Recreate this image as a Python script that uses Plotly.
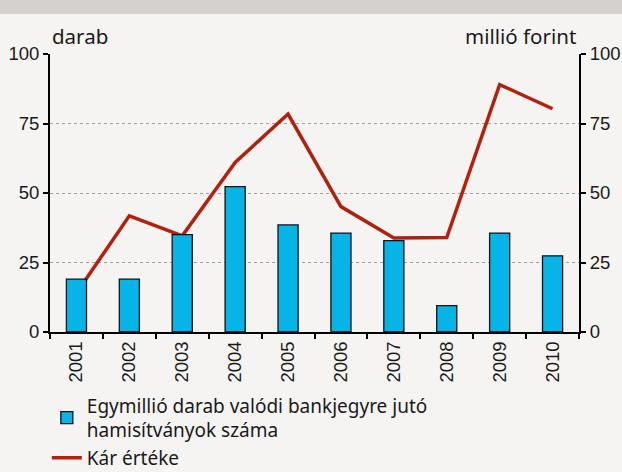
import plotly.graph_objects as go

years = ["2001", "2002", "2003", "2004", "2005", "2006", "2007", "2008", "2009", "2010"]
counterfeits_per_million = [19.0, 19.0, 35.0, 52.3, 38.5, 35.6, 32.9, 9.5, 35.6, 27.4]
damage_value = [14.0, 41.8, 34.6, 61.0, 78.4, 45.1, 33.8, 34.0, 89.0, 80.3]
y_ticks = [0, 25, 50, 75, 100]

bar_name = "Egymillió darab valódi bankjegyre jutó<br>hamisítványok száma"
line_name = "Kár értéke"

BG = "#f5f4f2"
TICKFONT = dict(family="Liberation Sans, Arial, sans-serif", size=18.5, color="#1a1a1a")
TEXTFONT = dict(family="Noto Sans, DejaVu Sans, sans-serif", size=20.5, color="#1a1a1a")
LEGENDFONT = dict(family="Noto Sans, DejaVu Sans, sans-serif", size=19, color="#1a1a1a")

fig = go.Figure()

fig.add_trace(go.Scatter(
    x=years, y=damage_value, name=line_name, mode="lines",
    line=dict(color="#b3200e", width=3.5), yaxis="y",
))
fig.add_trace(go.Bar(
    x=years, y=counterfeits_per_million, name=bar_name, yaxis="y2",
    marker=dict(color="#06b4e8", line=dict(color="#111111", width=1.3)),
    width=0.38,
))

fig.update_layout(
    width=622, height=472,
    paper_bgcolor=BG, plot_bgcolor=BG,
    margin=dict(l=50, r=43, t=54, b=140, autoexpand=False),
    showlegend=True,
    legend=dict(
        x=-0.006, y=-0.196, xanchor="left", yanchor="top",
        font=LEGENDFONT,
        traceorder="reversed", bgcolor="rgba(0,0,0,0)",
        itemwidth=30, tracegroupgap=0,
    ),
    xaxis=dict(
        type="category", tickangle=-90, tickfont=TICKFONT,
        showline=True, linecolor="#000000", linewidth=2,
        ticks="outside", ticklen=5, tickwidth=2, tickcolor="#000000",
        tickson="boundaries", showgrid=False, zeroline=False,
    ),
    yaxis=dict(
        range=[0, 100], tickvals=y_ticks, side="right",
        tickfont=TICKFONT, showline=True, linecolor="#000000", linewidth=2,
        ticks="outside", ticklen=5, tickwidth=2, tickcolor="#000000",
        showgrid=True, gridcolor="#a0a0a0", griddash="dot", gridwidth=1.2,
        zeroline=False,
    ),
    yaxis2=dict(
        range=[0, 100], tickvals=y_ticks, side="left", overlaying="y",
        tickfont=TICKFONT, showline=True, linecolor="#000000", linewidth=2,
        ticks="outside", ticklen=5, tickwidth=2, tickcolor="#000000",
        showgrid=False, zeroline=False,
    ),
    bargap=0.62,
)

fig.add_shape(type="rect", xref="paper", yref="paper", x0=-1, x1=2, y0=1.144, y1=1.3,
              fillcolor="#d5d1cd", line=dict(width=0), layer="below")

fig.add_annotation(text="darab", xref="paper", yref="paper", x=0.0, y=1.0,
                   xanchor="left", yanchor="bottom", yshift=2, showarrow=False, font=TEXTFONT)
fig.add_annotation(text="millió forint", xref="paper", yref="paper", x=1.0, y=1.0,
                   xanchor="right", yanchor="bottom", yshift=2, xshift=-1,
                   showarrow=False, font=TEXTFONT)

fig.write_html(
    "out.html",
    config={"displayModeBar": False},
    post_script="document.body.style.margin='0';document.body.style.padding='0';",
)
